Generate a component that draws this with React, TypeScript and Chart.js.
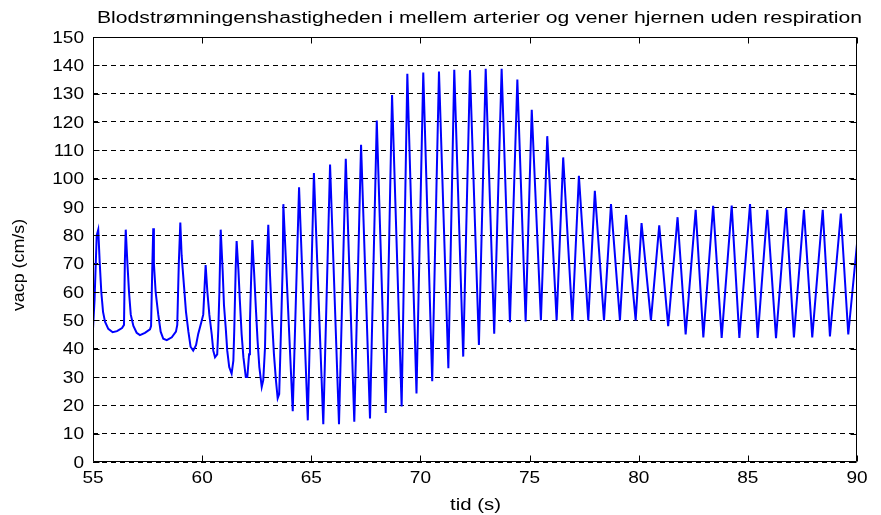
import React, { useEffect, useRef } from "react";
import { Chart, registerables } from "chart.js";

Chart.register(...registerables);

const TITLE = "Blodstrømningenshastigheden i mellem arterier og vener hjernen uden respiration";
const X_LABEL = "tid (s)";
const Y_LABEL = "vacp (cm/s)";
const X_TICKS = [55, 60, 65, 70, 75, 80, 85, 90];
const Y_TICKS = [0, 10, 20, 30, 40, 50, 60, 70, 80, 90, 100, 110, 120, 130, 140, 150];

// [time (s), velocity (cm/s)]
const restingBeats: [number, number][] = [
  [55.0, 47], [55.07, 57], [55.17, 80], [55.24, 82], [55.31, 70], [55.38, 60], [55.46, 53], [55.55, 49.5],
  [55.7, 47], [55.9, 45.8], [56.1, 46.2], [56.33, 47.3], [56.42, 48.4], [56.46, 71], [56.5, 82],
  [56.57, 71], [56.65, 60], [56.73, 52], [56.85, 48], [57.0, 45.6], [57.15, 44.8], [57.38, 45.6], [57.61, 46.8],
  [57.66, 48], [57.72, 70], [57.76, 82.5],
  [57.79, 70], [57.87, 60], [57.99, 52], [58.1, 46], [58.22, 43.5], [58.38, 43], [58.61, 44], [58.8, 46],
  [58.86, 48.4], [58.93, 70], [59.0, 84.5],
  [59.06, 73], [59.17, 62], [59.26, 53], [59.37, 46], [59.47, 40.7], [59.59, 39.3], [59.72, 41.2], [59.82, 45.2],
  [59.95, 49], [60.05, 52], [60.16, 69.5],
];

const transitionBeats: [number, number][] = [
  [60.24, 60], [60.33, 52], [60.44, 45], [60.51, 39.3], [60.59, 37], [60.69, 38], [60.74, 46.8], [60.79, 60], [60.85, 82],
  [60.94, 67.5], [61.0, 55.4], [61.08, 47.4], [61.15, 39.3], [61.24, 33.5], [61.35, 31.2], [61.43, 35.8], [61.47, 46.2],
  [61.54, 69.3], [61.58, 78],
  [61.66, 68], [61.73, 56.6], [61.81, 45], [61.89, 37], [62.0, 30], [62.07, 30], [62.15, 38], [62.19, 49.6],
  [62.24, 63.5], [62.3, 78.3],
  [62.38, 67], [62.47, 53], [62.54, 42.7], [62.62, 33.5], [62.73, 26.5], [62.8, 28.9], [62.88, 40.4], [62.96, 69.3],
  [63.03, 83.7],
  [63.11, 65.8], [63.19, 52], [63.29, 38], [63.38, 28.9], [63.46, 22.5], [63.53, 24], [63.61, 46], [63.69, 69],
];

const buildUpBeats: [number, number][] = [
  [63.72, 91], [64.15, 17.9], [64.44, 97], [64.84, 14.7], [65.12, 102], [65.55, 13.3], [65.86, 105], [66.27, 13.3],
  [66.58, 107], [66.97, 14.2], [67.28, 112], [67.69, 15.4], [68.0, 120.5], [68.41, 17.3], [68.7, 129.5], [69.14, 19.6],
  [69.4, 137], [69.82, 24.2], [70.13, 137.5], [70.54, 28.5], [70.85, 137.8], [71.28, 33.1], [71.55, 138.4],
  [71.96, 37.2], [72.27, 138.3], [72.68, 41.3], [72.99, 138.8], [73.38, 45.3], [73.72, 138.8], [74.1, 49.3],
];

const recoveryBeats: [number, number][] = [
  [74.44, 135], [74.82, 49.6], [75.1, 124.3], [75.52, 50], [75.81, 115], [76.24, 50], [76.54, 107.5], [76.96, 50],
  [77.26, 101], [77.69, 50], [77.99, 95.7], [78.41, 50], [78.73, 91], [79.14, 50], [79.42, 87.2], [79.86, 50],
  [80.13, 84.3], [80.56, 50],
];

const steadyBeats: [number, number][] = [
  [80.94, 83.5], [81.35, 47.9], [81.78, 86.4], [82.15, 45], [82.61, 89], [82.96, 44], [83.41, 90.4], [83.8, 43.8],
  [84.26, 90.5], [84.61, 43.8], [85.1, 91], [85.45, 43.8], [85.89, 89], [86.29, 43.7], [86.75, 89.6], [87.11, 44],
  [87.57, 89], [87.95, 44], [88.43, 89], [88.76, 44.3], [89.26, 87.7], [89.6, 45], [90.0, 77],
];

const FONT = '"Liberation Sans", Arial, Helvetica, sans-serif';

const frameAndTextPlugin = {
  id: "frameAndText",
  afterDraw(chart: any) {
    const { ctx, chartArea } = chart;
    const xs = chart.scales.x;
    const ys = chart.scales.y;
    const L = Math.round(chartArea.left) + 0.5;
    const R = Math.round(chartArea.right) - 0.5;
    const T = Math.round(chartArea.top) + 0.5;
    const B = Math.round(chartArea.bottom) - 0.5;
    ctx.save();
    ctx.strokeStyle = "#000";
    ctx.lineWidth = 1;
    ctx.setLineDash([]);
    ctx.beginPath();
    ctx.rect(L, T, R - L, B - T);
    // inward tick marks
    const tl = 6;
    X_TICKS.forEach((v) => {
      const px = Math.round(xs.getPixelForValue(v)) + 0.5;
      ctx.moveTo(px, B);
      ctx.lineTo(px, B - tl);
      ctx.moveTo(px, T);
      ctx.lineTo(px, T + tl);
    });
    Y_TICKS.forEach((v) => {
      const py = Math.round(ys.getPixelForValue(v)) + 0.5;
      ctx.moveTo(L, py);
      ctx.lineTo(L + tl, py);
      ctx.moveTo(R, py);
      ctx.lineTo(R - tl, py);
    });
    ctx.stroke();

    ctx.fillStyle = "#000";
    const drawStretched = (text: string, x: number, y: number, size: number, sx: number, align: CanvasTextAlign, baseline: CanvasTextBaseline) => {
      ctx.save();
      ctx.font = `${size}px ${FONT}`;
      ctx.textAlign = align;
      ctx.textBaseline = baseline;
      ctx.translate(x, y);
      ctx.scale(sx, 1);
      ctx.fillText(text, 0, 0);
      ctx.restore();
    };

    // y tick labels
    Y_TICKS.forEach((v) => {
      drawStretched(String(v), chartArea.left - 9, ys.getPixelForValue(v) + 1, 17, 1.12, "right", "middle");
    });
    // x tick labels
    X_TICKS.forEach((v) => {
      drawStretched(String(v), xs.getPixelForValue(v), chartArea.bottom + 8, 17, 1.12, "center", "top");
    });

    // title, stretched to its measured span
    ctx.font = `16px ${FONT}`;
    const tw = ctx.measureText(TITLE).width;
    drawStretched(TITLE, 479.5, 23, 16, 765 / tw, "center", "alphabetic");

    // x axis label
    drawStretched(X_LABEL, (chartArea.left + chartArea.right) / 2 + 0.5, 510, 17, 1.2, "center", "alphabetic");

    // y axis label
    ctx.save();
    ctx.font = `17px ${FONT}`;
    ctx.textAlign = "center";
    ctx.textBaseline = "alphabetic";
    ctx.translate(24, 265);
    ctx.rotate(-Math.PI / 2);
    ctx.scale(1.05, 1);
    ctx.fillText(Y_LABEL, 0, 0);
    ctx.restore();

    ctx.restore();
  },
};

export default function App() {
  const canvasRef = useRef<HTMLCanvasElement | null>(null);

  useEffect(() => {
    document.body.style.margin = "0";
    const canvas = canvasRef.current;
    if (!canvas) return;
    const points = [...restingBeats, ...transitionBeats, ...buildUpBeats, ...recoveryBeats, ...steadyBeats].map(
      ([x, y]) => ({ x, y })
    );
    const chart = new Chart(canvas, {
      type: "line",
      data: {
        datasets: [
          {
            data: points,
            borderColor: "#0000ff",
            borderWidth: 2,
            pointRadius: 0,
            tension: 0,
            fill: false,
          },
        ],
      },
      options: {
        responsive: false,
        animation: false,
        devicePixelRatio: 1,
        layout: { padding: { left: 93, right: 24, top: 37, bottom: 45 } },
        plugins: {
          legend: { display: false },
          tooltip: { enabled: false },
          title: { display: false },
        },
        scales: {
          x: {
            type: "linear",
            min: 55,
            max: 90,
            ticks: { display: false, stepSize: 5 },
            grid: { display: false },
            border: { display: false },
          },
          y: {
            type: "linear",
            min: 0,
            max: 150,
            ticks: { display: false, stepSize: 10 },
            grid: { display: true, color: "#000", lineWidth: 1, drawTicks: false },
            border: { display: false, dash: [5, 4] },
          },
        },
      },
      plugins: [frameAndTextPlugin],
    });
    return () => chart.destroy();
  }, []);

  return (
    <div style={{ position: "fixed", left: 0, top: 0, width: 881, height: 515, background: "#fff" }}>
      <canvas ref={canvasRef} width={881} height={515} style={{ display: "block", width: 881, height: 515 }} />
    </div>
  );
}
